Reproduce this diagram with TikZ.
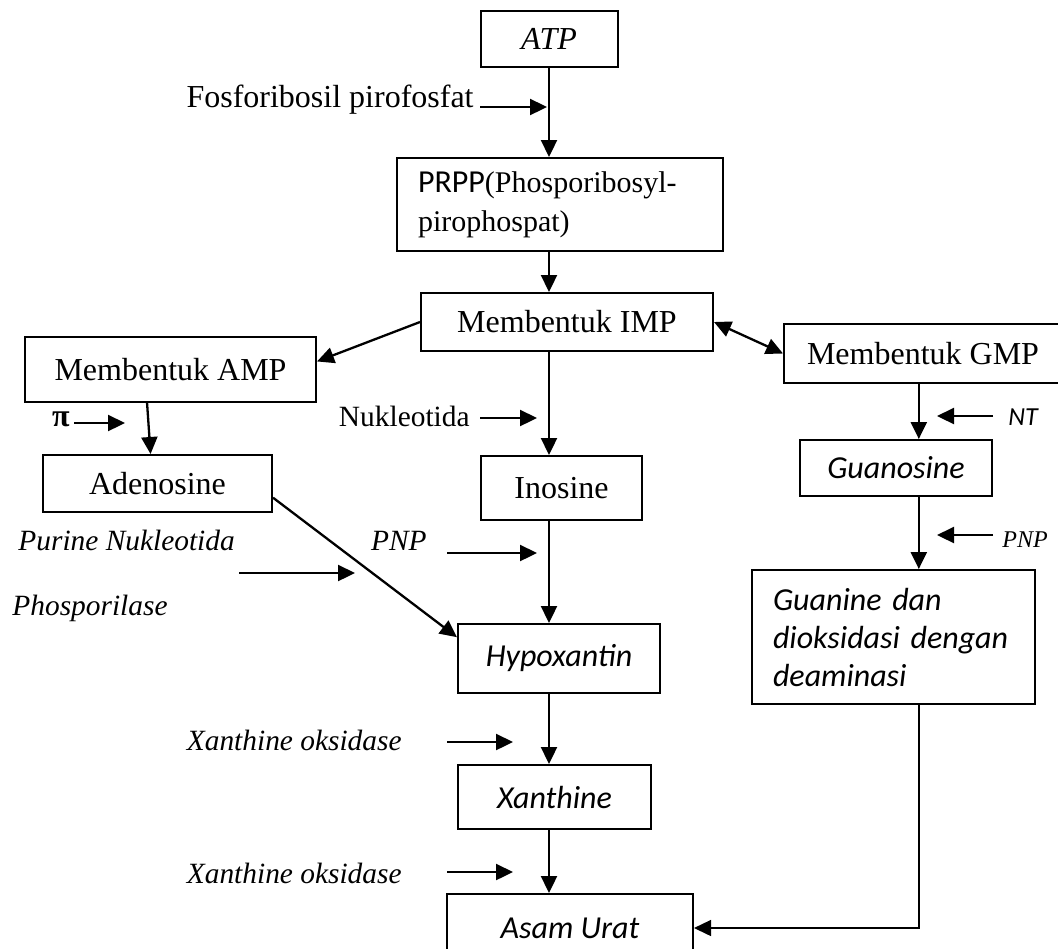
\documentclass[tikz,border=0pt]{standalone}
\usepackage{fontspec}
\setmainfont{Liberation Serif}
\newfontfamily\calfont{Carlito}
\usetikzlibrary{arrows.meta, calc}

\begin{document}
\begin{tikzpicture}[x=0.5pt, y=-0.5pt,
    box/.style={draw, line width=1pt, inner sep=0pt, font=\fontsize{16}{19}\selectfont},
    kbox/.style={font=\calfont\fontsize{16}{19}\selectfont\itshape},
    lbl/.style={inner sep=0pt, font=\fontsize{14.7}{17}\selectfont\itshape},
    tip/.tip={Triangle[length=8.5pt, width=8pt]},
    flow/.style={-tip, line width=1.15pt}]
    \useasboundingbox (0,0) rectangle (1058,948);

    % Boxes, middle column
    \node[box, minimum width=68.5pt, minimum height=28pt] (atp) at (549, 39) {\itshape ATP};
    \node[box, minimum width=163pt, minimum height=46.5pt, text width=142pt, align=left, font=\fontsize{15}{19.5}\selectfont] (prpp) at (560, 204.5) {{\calfont\fontsize{16}{19.5}\selectfont PRPP}(Phosporibosyl-\\pirophospat)};
    \node[box, minimum width=146pt, minimum height=29pt] (imp) at (567, 322) {Membentuk IMP};
    \node[box, minimum width=80.5pt, minimum height=32pt] (inosine) at (561.5, 488) {Inosine};
    \node[box, kbox, minimum width=101pt, minimum height=34.5pt] (hypoxantin) at (559, 658.5) {Hypoxantin};
    \node[box, kbox, minimum width=96.5pt, minimum height=32pt] (xanthine) at (554.5, 797) {Xanthine};
    \node[box, kbox, minimum width=123pt, minimum height=34pt] (asamurat) at (570, 928) {Asam Urat};

    % Boxes, left and right
    \node[box, minimum width=145.5pt, minimum height=32.5pt] (amp) at (170.5, 369.5) {Membentuk AMP};
    \node[box, minimum width=114.5pt, minimum height=28.5pt] (adenosine) at (157.5, 483.5) {Adenosine};
    \node[box, minimum width=139pt, minimum height=29.5pt] (gmp) at (923, 353.5) {Membentuk GMP};
    \node[box, kbox, minimum width=96pt, minimum height=28pt] (guanosine) at (896, 468) {Guanosine};
    \node[box, kbox, minimum width=141.5pt, minimum height=67pt, text width=120.5pt, align=left] (guanine) at (893.5, 637) {Guanine dan\\dioksidasi dengan\\deaminasi};

    % Enzyme labels
    \node[anchor=base east, inner sep=0pt, font=\fontsize{16}{19}\selectfont] (fosfo) at (474, 107) {Fosforibosil pirofosfat};
    \node[anchor=base east, inner sep=0pt, font=\fontsize{16}{19}\selectfont\bfseries] (pi) at (70, 426) {π};
    \node[anchor=base east, inner sep=0pt, font=\fontsize{14.7}{17}\selectfont] (nukleo) at (470, 426) {Nukleotida};
    \node[lbl, anchor=base west] (purine) at (18, 550) {Purine Nukleotida};
    \node[lbl, anchor=base west] (phospo) at (12, 615) {Phosporilase};
    \node[lbl, anchor=base east] (pnpmid) at (427, 550) {PNP};
    \node[anchor=base west, inner sep=0pt, font=\calfont\fontsize{13}{15}\selectfont\itshape] (nt) at (1008, 425) {NT};
    \node[lbl, anchor=base west, font=\fontsize{12}{14}\selectfont\itshape] (pnpright) at (1002, 547) {PNP};
    \node[lbl, anchor=base east] (xoa) at (402, 750) {Xanthine oksidase};
    \node[lbl, anchor=base east] (xob) at (402, 883) {Xanthine oksidase};

    % Arrow ends
    \coordinate (fosfoend) at (547, 107);
    \coordinate (piend) at (125, 423);
    \coordinate (nukleoend) at (537, 418);
    \coordinate (purinestart) at (239, 573);
    \coordinate (purineend) at (355, 573);
    \coordinate (pnpmidend) at (537, 553);
    \coordinate (ntend) at (937, 416);
    \coordinate (pnprightend) at (937, 535);
    \coordinate (xoaend) at (513, 742);
    \coordinate (xobend) at (513, 872);
    \coordinate (gcol) at ($(gmp.south west)!0.485!(gmp.south east)$);

    % Main column
    \draw[flow] (atp.south) -- (atp.south |- prpp.north);
    \draw[flow] (prpp.south -| atp.south) -- (imp.north -| atp.south);
    \draw[flow] (imp.south -| atp.south) -- (inosine.north -| atp.south);
    \draw[flow] (inosine.south -| atp.south) -- (hypoxantin.north -| atp.south);
    \draw[flow] (hypoxantin.south -| atp.south) -- (xanthine.north -| atp.south);
    \draw[flow] (xanthine.south -| atp.south) -- (asamurat.north -| atp.south);

    % Branches
    \draw[flow] (imp.west) -- ($(amp.north east)!0.38!(amp.south east)$);
    \draw[flow, tip-tip] (imp.east) -- (gmp.west);
    \draw[flow] ($(amp.south west)!0.42!(amp.south east)$) -- ($(adenosine.north west)!0.47!(adenosine.north east)$);
    \draw[flow] ($(adenosine.north east)!0.74!(adenosine.south east)$) -- ($(hypoxantin.north west)!0.2!(hypoxantin.south west)$);
    \draw[flow] (gcol) -- (gcol |- guanosine.north);
    \draw[flow] (guanosine.south -| gcol) -- (guanine.north -| gcol);
    \draw[flow, line width=0.7pt] (guanine.south -| gcol) |- (asamurat.east);

    % Enzyme arrows
    \draw[flow] ([xshift=3pt]fosfo.base east) -- (fosfoend);
    \draw[flow] ([xshift=2pt, yshift=1.5pt]pi.base east) -- (piend);
    \draw[flow] ([xshift=5pt, yshift=4pt]nukleo.base east) -- (nukleoend);
    \draw[flow] (purinestart) -- (purineend);
    \draw[flow] ([xshift=10pt, yshift=-1.5pt]pnpmid.base east) -- (pnpmidend);
    \draw[flow] ([xshift=-7.5pt, yshift=4.5pt]nt.base west) -- (ntend);
    \draw[flow] ([xshift=-4.5pt, yshift=6pt]pnpright.base west) -- (pnprightend);
    \draw[flow] ([xshift=22.5pt, yshift=4pt]xoa.base east) -- (xoaend);
    \draw[flow] ([xshift=22.5pt, yshift=5.5pt]xob.base east) -- (xobend);
\end{tikzpicture}
\end{document}
